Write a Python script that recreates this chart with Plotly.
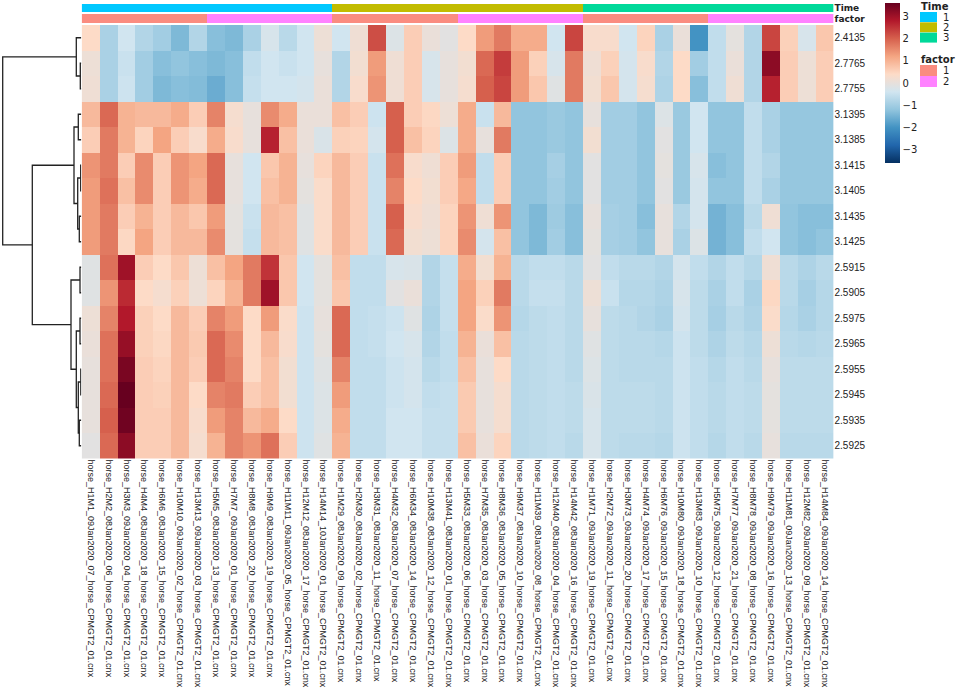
import plotly.graph_objects as go

# sample (column) labels, in display order
col_labels = [
    "horse_H1M1_09Jan2020_07_horse_CPMGT2_01.cnx",
    "horse_H2M2_08Jan2020_06_horse_CPMGT2_01.cnx",
    "horse_H3M3_09Jan2020_04_horse_CPMGT2_01.cnx",
    "horse_H4M4_08Jan2020_18_horse_CPMGT2_01.cnx",
    "horse_H6M6_08Jan2020_15_horse_CPMGT2_01.cnx",
    "horse_H10M10_09Jan2020_02_horse_CPMGT2_01.cnx",
    "horse_H13M13_09Jan2020_03_horse_CPMGT2_01.cnx",
    "horse_H5M5_08Jan2020_13_horse_CPMGT2_01.cnx",
    "horse_H7M7_09Jan2020_01_horse_CPMGT2_01.cnx",
    "horse_H8M8_08Jan2020_20_horse_CPMGT2_01.cnx",
    "horse_H9M9_08Jan2020_19_horse_CPMGT2_01.cnx",
    "horse_H11M11_09Jan2020_05_horse_CPMGT2_01.cnx",
    "horse_H12M12_08Jan2020_17_horse_CPMGT2_01.cnx",
    "horse_H14M14_10Jan2020_01_horse_CPMGT2_01.cnx",
    "horse_H1M29_08Jan2020_09_horse_CPMGT2_01.cnx",
    "horse_H2M30_08Jan2020_02_horse_CPMGT2_01.cnx",
    "horse_H3M31_08Jan2020_11_horse_CPMGT2_01.cnx",
    "horse_H4M32_08Jan2020_07_horse_CPMGT2_01.cnx",
    "horse_H6M34_08Jan2020_14_horse_CPMGT2_01.cnx",
    "horse_H10M38_08Jan2020_12_horse_CPMGT2_01.cnx",
    "horse_H13M41_08Jan2020_01_horse_CPMGT2_01.cnx",
    "horse_H5M33_08Jan2020_06_horse_CPMGT2_01.cnx",
    "horse_H7M35_08Jan2020_03_horse_CPMGT2_01.cnx",
    "horse_H8M36_08Jan2020_05_horse_CPMGT2_01.cnx",
    "horse_H9M37_08Jan2020_10_horse_CPMGT2_01.cnx",
    "horse_H11M39_08Jan2020_08_horse_CPMGT2_01.cnx",
    "horse_H12M40_08Jan2020_04_horse_CPMGT2_01.cnx",
    "horse_H14M42_08Jan2020_16_horse_CPMGT2_01.cnx",
    "horse_H1M71_09Jan2020_19_horse_CPMGT2_01.cnx",
    "horse_H2M72_09Jan2020_11_horse_CPMGT2_01.cnx",
    "horse_H3M73_09Jan2020_20_horse_CPMGT2_01.cnx",
    "horse_H4M74_09Jan2020_17_horse_CPMGT2_01.cnx",
    "horse_H6M76_09Jan2020_15_horse_CPMGT2_01.cnx",
    "horse_H10M80_09Jan2020_18_horse_CPMGT2_01.cnx",
    "horse_H13M83_09Jan2020_10_horse_CPMGT2_01.cnx",
    "horse_H5M75_09Jan2020_12_horse_CPMGT2_01.cnx",
    "horse_H7M77_09Jan2020_21_horse_CPMGT2_01.cnx",
    "horse_H8M78_09Jan2020_08_horse_CPMGT2_01.cnx",
    "horse_H9M79_09Jan2020_16_horse_CPMGT2_01.cnx",
    "horse_H11M81_09Jan2020_13_horse_CPMGT2_01.cnx",
    "horse_H12M82_09Jan2020_09_horse_CPMGT2_01.cnx",
    "horse_H14M84_09Jan2020_14_horse_CPMGT2_01.cnx",
]

# feature (row) labels, in display order
row_labels = ["2.4135", "2.7765", "2.7755", "3.1395", "3.1385", "3.1415", "3.1405",
              "3.1435", "3.1425", "2.5915", "2.5905", "2.5975", "2.5965", "2.5955",
              "2.5945", "2.5935", "2.5925"]

# column annotations
time_group = [1, 1, 1, 1, 1, 1, 1, 1, 1, 1, 1, 1, 1, 1,
              2, 2, 2, 2, 2, 2, 2, 2, 2, 2, 2, 2, 2, 2,
              3, 3, 3, 3, 3, 3, 3, 3, 3, 3, 3, 3, 3, 3]
factor_group = [1, 1, 1, 1, 1, 1, 1, 2, 2, 2, 2, 2, 2, 2,
                1, 1, 1, 1, 1, 1, 1, 2, 2, 2, 2, 2, 2, 2,
                1, 1, 1, 1, 1, 1, 1, 2, 2, 2, 2, 2, 2, 2]

# scaled values (rows x columns)
z = [
    [0.4, -0.9, -0.4, -0.8, -1.0, -1.4, -0.8, -1.3, -1.4, -0.9, -0.3, -0.7, -0.4, 0.1, -0.4, 0.15, 2.2, -0.2, 0.6, 0.05, -0.1,
     0.4, 1.3, 1.7, 1.1, 1.1, -0.4, 2.3, 0.3, 0.3, -0.4, 0.5, -0.9, 0.05, -2.0, -0.6, -0.05, -0.8, 2.3, 0.55, -0.3, 0.7],
    [0.1, -0.9, -0.5, -1.0, -1.3, -1.2, -1.3, -1.4, -1.3, -0.6, -0.4, -0.5, -0.4, 0.0, -0.8, 0.2, 1.3, 0.15, 0.6, -0.3, 0.0,
     0.2, 1.9, 2.4, 1.3, 0.55, -0.3, 1.7, 0.15, 0.55, -0.35, 0.3, -0.8, 0.4, -1.0, -0.6, 0.05, -0.8, 3.2, 0.6, 0.1, 0.6],
    [0.15, -0.9, -0.45, -1.0, -1.4, -1.3, -1.35, -1.6, -1.3, -0.55, -0.4, -0.4, -0.35, 0.05, -0.8, 0.3, 1.4, 0.15, 0.6, -0.3, 0.0,
     0.25, 2.0, 2.3, 1.3, 0.7, -0.15, 1.7, 0.2, 0.7, -0.35, 0.25, -0.85, 0.4, -1.3, -0.6, 0.15, -0.8, 2.7, 0.6, 0.1, 0.6],
    [0.9, 1.9, 1.0, 0.9, 0.9, 1.1, 0.6, 1.6, 0.25, 0.0, 1.5, 1.1, 0.05, 0.05, 0.8, 0.6, -0.45, 2.0, 0.6, 0.45, 0.1,
     1.1, -0.5, 0.9, -1.2, -1.2, -1.1, -1.2, 0.0, -1.0, -1.0, -1.2, -0.2, -1.1, -0.4, -1.2, -1.2, -0.6, -0.9, -1.15, -1.15, -1.15],
    [0.6, 1.7, 1.0, 0.5, 1.2, 0.6, 0.3, 1.1, 0.3, 0.0, 2.7, 0.8, 0.05, -0.25, 0.55, 0.5, -0.35, 2.0, 0.8, 0.5, -0.2,
     1.1, 0.0, 1.7, -1.2, -1.2, -1.1, -1.2, 0.2, -1.0, -1.0, -1.2, -0.1, -1.1, -0.4, -1.2, -1.2, -0.6, -0.9, -1.15, -1.15, -1.15],
    [1.4, 1.7, 0.6, 1.5, 0.6, 1.4, 1.2, 1.9, 0.0, -0.4, 0.7, 1.0, 0.0, 0.5, 0.9, 0.6, -0.5, 1.8, 0.3, 0.15, 0.6,
     1.3, -0.6, 0.6, -1.2, -1.2, -0.95, -1.2, -0.1, -1.0, -1.0, -1.2, -0.05, -1.1, -0.3, -1.3, -1.2, -0.6, -0.8, -1.15, -1.15, -1.15],
    [1.3, 1.8, 0.8, 1.5, 0.6, 1.4, 1.1, 1.9, 0.0, -0.4, 0.8, 1.0, -0.05, 0.35, 0.9, 0.6, -0.5, 1.6, 0.4, 0.2, 0.6,
     1.15, -0.6, 0.6, -1.2, -1.2, -1.0, -1.2, -0.1, -1.0, -1.0, -1.2, -0.1, -1.1, -0.35, -1.2, -1.2, -0.6, -0.9, -1.15, -1.15, -1.15],
    [1.3, 1.7, 0.6, 1.0, 0.6, 0.9, 0.7, 1.3, -0.05, -0.5, 0.9, 0.8, -0.15, 0.35, 0.9, 0.6, -0.5, 2.0, 0.3, 0.15, 0.5,
     1.4, 0.15, 1.4, -1.2, -1.4, -1.05, -1.3, 0.0, -0.95, -1.0, -1.3, 0.0, -0.8, -0.35, -1.5, -1.3, -0.7, 0.15, -1.2, -1.3, -1.3],
    [1.3, 1.7, 0.45, 1.2, 0.6, 0.9, 0.9, 1.5, -0.05, -0.55, 0.9, 0.8, -0.15, 0.35, 0.9, 0.6, -0.5, 1.9, 0.2, 0.1, 0.5,
     1.5, -0.35, 0.8, -1.2, -1.4, -1.0, -1.3, -0.05, -0.95, -1.0, -1.2, 0.0, -0.9, -0.2, -1.5, -1.3, -0.6, -0.4, -1.2, -1.3, -1.2],
    [-0.15, 1.8, 3.0, 0.6, 0.4, 0.7, 0.1, 0.8, 1.2, 1.7, 2.5, 0.7, -0.4, -0.05, 0.8, -0.6, -0.6, -0.3, -0.25, -0.8, -0.55,
     1.1, 0.2, 1.0, -0.7, -0.6, -0.6, -0.7, -0.1, -0.6, -0.7, -0.7, -0.8, -0.35, -0.6, -0.8, -0.6, -0.75, 0.15, -0.7, -0.85, -0.7],
    [-0.15, 1.4, 2.6, 0.4, 0.25, 0.55, 0.1, 0.5, 1.0, 1.7, 3.0, 0.7, -0.4, -0.05, 0.7, -0.6, -0.6, -0.1, 0.05, -0.8, -0.55,
     1.2, 0.55, 1.7, -0.7, -0.55, -0.55, -0.7, 0.1, -0.5, -0.75, -0.75, -0.85, -0.3, -0.65, -0.9, -0.6, -0.9, 0.45, -0.7, -0.95, -0.75],
    [0.1, 1.6, 2.8, 0.55, 0.4, 0.9, 0.6, 1.6, 1.3, 0.4, 1.3, 0.35, -0.45, 0.0, 1.9, -0.6, -0.55, -0.45, -0.15, -0.85, -0.55,
     1.2, 0.35, 1.4, -0.75, -0.65, -0.6, -0.7, 0.0, -0.65, -0.7, -0.8, -0.9, -0.35, -0.65, -0.95, -0.7, -0.85, 0.35, -0.75, -0.9, -0.75],
    [0.05, 1.8, 3.1, 0.55, 0.45, 0.9, 0.65, 1.9, 1.5, 0.4, 0.9, 0.3, -0.45, -0.05, 1.9, -0.6, -0.55, -0.4, -0.3, -0.8, -0.6,
     1.0, 0.05, 0.8, -0.7, -0.65, -0.6, -0.7, -0.15, -0.65, -0.7, -0.7, -0.75, -0.45, -0.65, -0.85, -0.65, -0.75, 0.1, -0.7, -0.75, -0.7],
    [0.0, 1.8, 3.4, 0.6, 0.5, 0.9, 0.6, 1.9, 1.6, 0.4, 0.8, 0.2, -0.45, -0.15, 1.6, -0.6, -0.6, -0.45, -0.35, -0.7, -0.6,
     0.8, 0.0, 0.4, -0.7, -0.65, -0.6, -0.7, -0.2, -0.65, -0.7, -0.7, -0.7, -0.45, -0.6, -0.75, -0.6, -0.7, 0.0, -0.65, -0.65, -0.65],
    [0.0, 1.9, 3.6, 0.6, 0.55, 0.9, 0.4, 1.6, 1.7, 0.6, 0.8, 0.2, -0.45, -0.2, 1.3, -0.6, -0.6, -0.45, -0.35, -0.6, -0.55,
     0.65, 0.0, 0.25, -0.7, -0.65, -0.6, -0.65, -0.25, -0.65, -0.65, -0.65, -0.7, -0.45, -0.6, -0.7, -0.6, -0.65, -0.05, -0.65, -0.65, -0.65],
    [0.0, 2.0, 3.5, 0.6, 0.6, 0.9, 0.3, 1.3, 1.6, 0.9, 1.1, 0.4, -0.45, -0.2, 1.1, -0.6, -0.6, -0.4, -0.4, -0.55, -0.55,
     0.65, 0.0, 0.25, -0.7, -0.65, -0.6, -0.65, -0.3, -0.65, -0.65, -0.65, -0.7, -0.45, -0.6, -0.7, -0.6, -0.65, -0.05, -0.65, -0.65, -0.65],
    [-0.1, 1.9, 3.2, 0.6, 0.6, 0.9, 0.25, 1.0, 1.6, 1.4, 1.8, 0.6, -0.45, -0.15, 1.0, -0.6, -0.6, -0.4, -0.4, -0.55, -0.55,
     0.8, 0.05, 0.5, -0.7, -0.65, -0.6, -0.7, -0.3, -0.65, -0.7, -0.7, -0.75, -0.45, -0.6, -0.75, -0.6, -0.7, 0.0, -0.7, -0.7, -0.7],
]

# row dendrogram: (left node, right node, height); leaves are 0..16, new nodes from 17
merges = [
    (1, 2, 1.0), (0, 17, 5.0),
    (3, 4, 3.0), (5, 6, 0.6), (7, 8, 2.0), (20, 21, 3.6), (19, 22, 7.3),
    (9, 10, 1.3), (11, 12, 1.3), (13, 14, 0.5), (15, 16, 2.0), (26, 27, 3.0),
    (25, 28, 5.0), (24, 29, 10.3), (23, 30, 49.0), (18, 31, 78.6),
]

# colours
rdbu = ["#053061", "#2166AC", "#4393C3", "#92C5DE", "#D1E5F0",
        "#FDDBC7", "#F4A582", "#D6604D", "#B2182B", "#67001F"]
heat_scale = [[i / (len(rdbu) - 1), c] for i, c in enumerate(rdbu)]
time_colors = ["#00C8FF", "#C2BC00", "#00D99A"]
factor_colors = ["#FA8C80", "#FF82FF"]

W, H = 957, 688


def px_x(v):
    return v / W


def px_y(v):
    return 1 - v / H


def step_scale(colors):
    n = len(colors)
    out = []
    for i, c in enumerate(colors):
        out += [[i / n, c], [(i + 1) / n, c]]
    return out


fig = go.Figure()

fig.add_trace(go.Heatmap(
    z=z, x=list(range(len(col_labels))), y=list(range(len(row_labels))),
    colorscale=heat_scale, zmin=-3.6, zmax=3.6,
    colorbar=dict(x=px_x(885), xanchor="left", y=px_y(3), yanchor="top",
                  len=160, lenmode="pixels", thickness=15, outlinewidth=0,
                  tickvals=[-3, -2, -1, 0, 1, 2, 3], ticks="", xpad=0, ypad=0,
                  tickfont=dict(family="DejaVu Sans", size=10, color="#222")),
))

fig.add_trace(go.Heatmap(
    z=[time_group], x=list(range(len(col_labels))), y=[0], yaxis="y2",
    colorscale=step_scale(time_colors), zmin=0.5, zmax=3.5, showscale=False,
))
fig.add_trace(go.Heatmap(
    z=[factor_group], x=list(range(len(col_labels))), y=[0], yaxis="y3",
    colorscale=step_scale(factor_colors), zmin=0.5, zmax=2.5, showscale=False,
))

# dendrogram lines
pos = {i: (float(i), 0.0) for i in range(len(row_labels))}
dx, dy = [], []
for k, (a, b, h) in enumerate(merges):
    ya, ha = pos[a]
    yb, hb = pos[b]
    dx += [ha, h, h, hb, None]
    dy += [ya, ya, yb, yb, None]
    pos[len(row_labels) + k] = ((ya + yb) / 2, h)
fig.add_trace(go.Scatter(x=dx, y=dy, xaxis="x2", yaxis="y", mode="lines",
                         line=dict(color="#222", width=1.3), hoverinfo="skip",
                         showlegend=False))

# annotation legend (Time / factor)
shapes, annots = [], []
legend_font = dict(family="DejaVu Sans", size=10, color="#222")
annots.append(dict(x=px_x(919), y=px_y(6), xref="paper", yref="paper", text="<b>Time</b>",
                   showarrow=False, xanchor="left", yanchor="middle", font=legend_font))
for i, c in enumerate(time_colors):
    top = 12 + i * 10.3
    shapes.append(dict(type="rect", xref="paper", yref="paper", x0=px_x(920), x1=px_x(937),
                       y0=px_y(top + 10), y1=px_y(top), fillcolor=c, line=dict(width=0)))
    annots.append(dict(x=px_x(941), y=px_y(top + 5), xref="paper", yref="paper", text=str(i + 1),
                       showarrow=False, xanchor="left", yanchor="middle", font=legend_font))
annots.append(dict(x=px_x(919), y=px_y(59), xref="paper", yref="paper", text="<b>factor</b>",
                   showarrow=False, xanchor="left", yanchor="middle", font=legend_font))
for i, c in enumerate(factor_colors):
    top = 65 + i * 11
    shapes.append(dict(type="rect", xref="paper", yref="paper", x0=px_x(920), x1=px_x(937),
                       y0=px_y(top + 11), y1=px_y(top), fillcolor=c, line=dict(width=0)))
    annots.append(dict(x=px_x(941), y=px_y(top + 5.5), xref="paper", yref="paper", text=str(i + 1),
                       showarrow=False, xanchor="left", yanchor="middle", font=legend_font))

axis_common = dict(showgrid=False, zeroline=False, showline=False, ticks="", automargin=False)
fig.update_layout(
    width=W, height=H,
    margin=dict(l=0, r=0, t=0, b=0, autoexpand=False),
    paper_bgcolor="white", plot_bgcolor="white",
    showlegend=False,
    shapes=shapes, annotations=annots,
    xaxis=dict(domain=[px_x(81.7), px_x(833.5)], range=[-0.5, 41.5], anchor="y",
               tickmode="array", tickvals=list(range(len(col_labels))), ticktext=col_labels,
               tickangle=90, tickfont=dict(family="Liberation Sans", size=9, color="#222"),
               **axis_common),
    yaxis=dict(domain=[px_y(458.5), px_y(25)], range=[16.5, -0.5], anchor="x", side="right",
               tickmode="array", tickvals=list(range(len(row_labels))), ticktext=row_labels,
               tickfont=dict(family="Liberation Sans", size=10, color="#222"), **axis_common),
    yaxis2=dict(domain=[px_y(12), px_y(4)], range=[-0.5, 0.5], anchor="x", side="right",
                tickmode="array", tickvals=[0], ticktext=["<b>Time</b>"],
                tickfont=dict(family="DejaVu Sans", size=9, color="#222"), **axis_common),
    yaxis3=dict(domain=[px_y(23), px_y(14)], range=[-0.5, 0.5], anchor="x", side="right",
                tickmode="array", tickvals=[0], ticktext=["<b>factor</b>"],
                tickfont=dict(family="DejaVu Sans", size=9, color="#222"), **axis_common),
    xaxis2=dict(domain=[0, px_x(81.3)], range=[81.3, 0], anchor="y", visible=False),
)

# the page's default body margin would push the figure 8px right and down
fig.write_html("out.html", config={"displayModeBar": False},
               post_script="document.body.style.margin = '0';")
